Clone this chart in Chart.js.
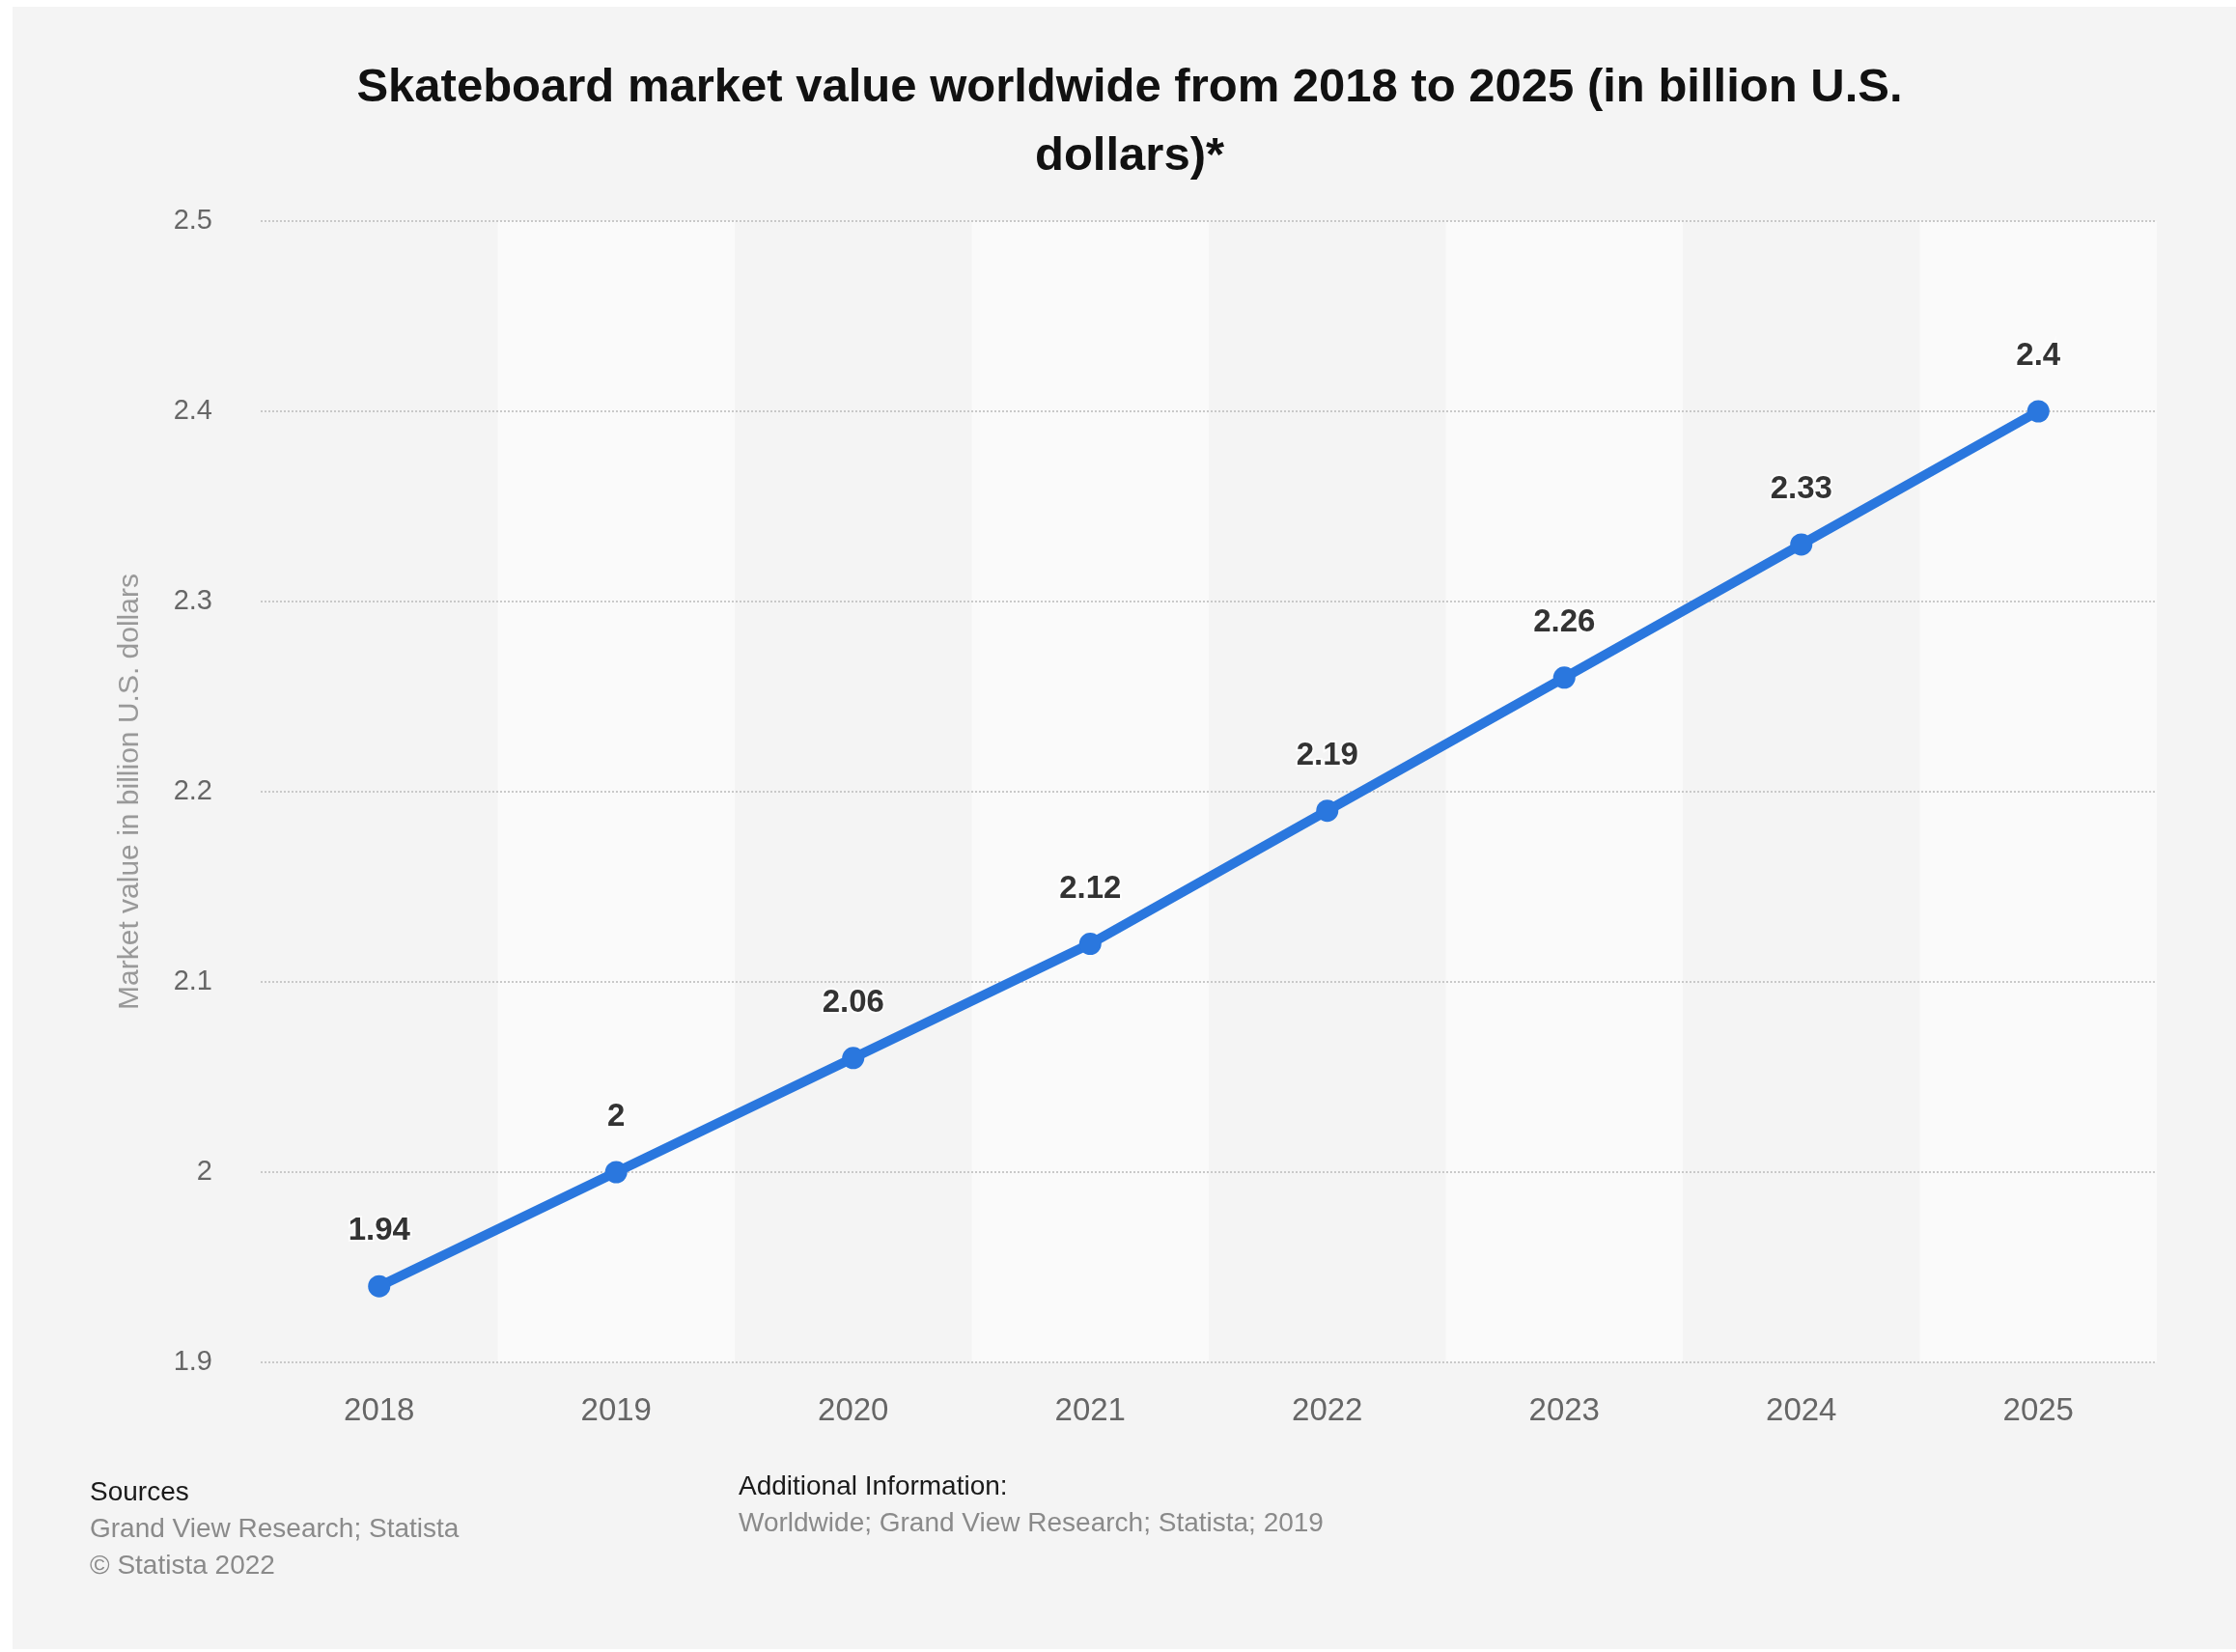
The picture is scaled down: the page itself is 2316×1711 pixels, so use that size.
<!DOCTYPE html>
<html>
<head>
<meta charset="utf-8">
<script src="https://cdn.jsdelivr.net/npm/chart.js@4"></script>
<style>
  html, body { margin: 0; padding: 0; background: #fff; }
  body { width: 2316px; height: 1711px; position: relative; overflow: hidden; font-family: "Liberation Sans", Arial, Helvetica, sans-serif; }
  #panel { position: absolute; left: 13px; top: 7px; right: 0; bottom: 3px; background: #f4f4f4; }
  #chart { position: absolute; left: 0; top: 0; }
  #title { position: absolute; left: 0; width: 2340px; top: 53px; text-align: center; font-weight: bold; font-size: 49px; line-height: 71px; color: #111; }
  .foot { position: absolute; font-size: 28px; line-height: 38px; color: #8a8a8a; }
  .foot b { font-weight: normal; color: #1a1a1a; }
  #sources { left: 93px; top: 1526px; }
  #addinfo { left: 765px; top: 1520px; }
</style>
</head>
<body>
<div id="panel"></div>
<div id="title">Skateboard market value worldwide from 2018 to 2025 (in billion U.S.<br>dollars)*</div>
<canvas id="chart" width="2316" height="1711"></canvas>
<div class="foot" id="sources"><b>Sources</b><br>Grand View Research; Statista<br>© Statista 2022</div>
<div class="foot" id="addinfo"><b>Additional Information:</b><br>Worldwide; Grand View Research; Statista; 2019</div>
<script>
const years = ['2018', '2019', '2020', '2021', '2022', '2023', '2024', '2025'];
const marketValue = [1.94, 2, 2.06, 2.12, 2.19, 2.26, 2.33, 2.4];
const yTicks = [1.9, 2, 2.1, 2.2, 2.3, 2.4, 2.5];

const fontFamily = '"Liberation Sans", Arial, Helvetica, sans-serif';

// alternating light column bands behind the line
const bandsPlugin = {
    id: 'bands',
    beforeDraw(chart) {
        const ctx = chart.ctx;
        const area = chart.chartArea;
        const x = chart.scales.x;
        const half = (x.getPixelForValue(1) - x.getPixelForValue(0)) / 2;
        ctx.save();
        ctx.fillStyle = '#fafafa';
        years.forEach((y, i) => {
            if (i % 2 === 1) {
                const cx = x.getPixelForValue(i);
                ctx.fillRect(cx - half, area.top, half * 2, area.bottom - area.top);
            }
        });
        ctx.restore();
    }
};

// value labels above each point
const valueLabels = {
    id: 'valueLabels',
    afterDatasetsDraw(chart) {
        const ctx = chart.ctx;
        const meta = chart.getDatasetMeta(0);
        ctx.save();
        ctx.font = 'bold 33px ' + fontFamily;
        ctx.textAlign = 'center';
        ctx.textBaseline = 'middle';
        meta.data.forEach((pt, i) => {
            const txt = String(marketValue[i]);
            ctx.lineWidth = 4;
            ctx.strokeStyle = 'rgba(255,255,255,0.7)';
            ctx.strokeText(txt, pt.x, pt.y - 57);
            ctx.fillStyle = '#333';
            ctx.fillText(txt, pt.x, pt.y - 57);
        });
        ctx.restore();
    }
};

new Chart(document.getElementById('chart'), {
    type: 'line',
    data: {
        labels: years,
        datasets: [{
            label: 'Market value in billion U.S. dollars',
            data: marketValue,
            borderColor: '#2a77de',
            backgroundColor: '#2a77de',
            borderWidth: 10,
            pointRadius: 11.5,
            pointBorderWidth: 0,
            tension: 0
        }]
    },
    options: {
        responsive: false,
        animation: false,
        layout: {
            padding: { left: 117, right: 82, top: 229, bottom: 200 }
        },
        plugins: {
            legend: { display: false },
            tooltip: { enabled: false }
        },
        scales: {
            x: {
                offset: true,
                grid: { display: false, drawTicks: false },
                border: { display: false },
                ticks: {
                    color: '#666',
                    padding: 31,
                    font: { size: 33, family: fontFamily }
                },
                afterFit: (s) => { s.height = 100; }
            },
            y: {
                min: yTicks[0],
                max: yTicks[yTicks.length - 1],
                grid: { color: '#c9c9c9', lineWidth: 2, drawTicks: false },
                border: { display: false, dash: [2, 2] },
                ticks: {
                    stepSize: 0.1,
                    color: '#666',
                    padding: 50,
                    font: { size: 29, family: fontFamily },
                    callback: (v) => String(Number(v.toFixed(2)))
                },
                title: {
                    display: true,
                    text: 'Market value in billion U.S. dollars',
                    color: '#999',
                    padding: { top: 0, bottom: 0 },
                    font: { size: 30, family: fontFamily }
                },
                afterFit: (s) => { s.width = 153; }
            }
        }
    },
    plugins: [bandsPlugin, valueLabels]
});
</script>
</body>
</html>
